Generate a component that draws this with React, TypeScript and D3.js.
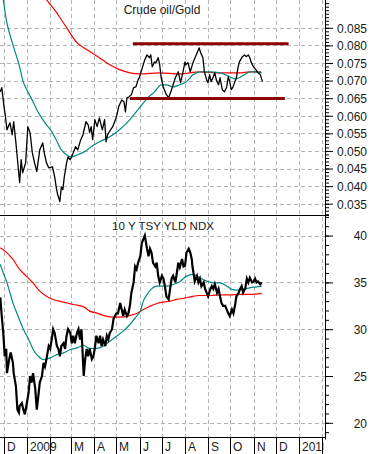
import * as React from "react";
import * as d3 from "d3";

// Crude oil / Gold ratio
const ratio: [string, number][] = [
  ["2008-11-26", 0.0668], ["2008-11-28", 0.068], ["2008-12-01", 0.0626], ["2008-12-03", 0.0597],
  ["2008-12-05", 0.056], ["2008-12-09", 0.058], ["2008-12-12", 0.0546], ["2008-12-14", 0.0583],
  ["2008-12-17", 0.0523], ["2008-12-20", 0.0455], ["2008-12-22", 0.041], ["2008-12-24", 0.0475],
  ["2008-12-26", 0.0438], ["2008-12-30", 0.0466], ["2009-01-02", 0.0569], ["2009-01-05", 0.0552],
  ["2009-01-08", 0.0495], ["2009-01-11", 0.0466], ["2009-01-14", 0.0441], ["2009-01-18", 0.0503],
  ["2009-01-22", 0.0523], ["2009-01-24", 0.0495], ["2009-01-27", 0.0466], ["2009-01-30", 0.0452],
  ["2009-02-04", 0.0455], ["2009-02-07", 0.0427], ["2009-02-09", 0.0398], ["2009-02-11", 0.0376],
  ["2009-02-14", 0.0356], ["2009-02-16", 0.0398], ["2009-02-18", 0.039], ["2009-02-20", 0.0427],
  ["2009-02-23", 0.0466], ["2009-02-25", 0.0483], ["2009-02-28", 0.0475], ["2009-03-04", 0.0495],
  ["2009-03-07", 0.0512], ["2009-03-10", 0.0503], ["2009-03-14", 0.0532], ["2009-03-17", 0.0546],
  ["2009-03-21", 0.0583], ["2009-03-24", 0.0574], ["2009-03-26", 0.0552], ["2009-03-28", 0.0569],
  ["2009-03-30", 0.0532], ["2009-04-02", 0.0589], ["2009-04-05", 0.0569], ["2009-04-08", 0.0594],
  ["2009-04-12", 0.056], ["2009-04-15", 0.0589], ["2009-04-17", 0.0526], ["2009-04-19", 0.0546],
  ["2009-04-23", 0.056], ["2009-04-26", 0.0569], ["2009-05-01", 0.0597], ["2009-05-04", 0.0626],
  ["2009-05-08", 0.0645], ["2009-05-11", 0.064], ["2009-05-13", 0.0611], ["2009-05-15", 0.0651],
  ["2009-05-18", 0.0654], ["2009-05-21", 0.066], ["2009-05-24", 0.068], ["2009-05-27", 0.0682],
  ["2009-05-30", 0.0702], ["2009-06-01", 0.0711], ["2009-06-05", 0.0739], ["2009-06-08", 0.0759],
  ["2009-06-11", 0.0773], ["2009-06-14", 0.0765], ["2009-06-16", 0.0773], ["2009-06-18", 0.0739],
  ["2009-06-21", 0.0753], ["2009-06-23", 0.0751], ["2009-06-26", 0.0765], ["2009-06-28", 0.0745],
  ["2009-06-30", 0.0708], ["2009-07-03", 0.068], ["2009-07-07", 0.066], ["2009-07-10", 0.0651],
  ["2009-07-13", 0.0668], ["2009-07-16", 0.0688], ["2009-07-19", 0.0708], ["2009-07-23", 0.0725],
  ["2009-07-26", 0.0694], ["2009-07-29", 0.0722], ["2009-08-01", 0.0753], ["2009-08-02", 0.0745],
  ["2009-08-05", 0.0751], ["2009-08-08", 0.0725], ["2009-08-12", 0.0753], ["2009-08-16", 0.0773],
  ["2009-08-20", 0.0793], ["2009-08-22", 0.0779], ["2009-08-25", 0.0765], ["2009-08-27", 0.0725],
  ["2009-08-30", 0.0702], ["2009-09-01", 0.0694], ["2009-09-03", 0.0717], ["2009-09-05", 0.0697],
  ["2009-09-08", 0.0711], ["2009-09-10", 0.0722], ["2009-09-12", 0.0702], ["2009-09-15", 0.0688],
  ["2009-09-17", 0.0708], ["2009-09-20", 0.0674], ["2009-09-23", 0.0668], ["2009-09-26", 0.0682],
  ["2009-09-28", 0.0711], ["2009-09-30", 0.0697], ["2009-10-02", 0.0674], ["2009-10-04", 0.068],
  ["2009-10-07", 0.0697], ["2009-10-09", 0.0708], ["2009-10-11", 0.0736], ["2009-10-13", 0.0753],
  ["2009-10-17", 0.0768], ["2009-10-20", 0.0773], ["2009-10-22", 0.0768], ["2009-10-25", 0.0773],
  ["2009-10-27", 0.0765], ["2009-10-29", 0.0751], ["2009-11-01", 0.0739], ["2009-11-04", 0.0731],
  ["2009-11-07", 0.0722], ["2009-11-10", 0.0717], ["2009-11-13", 0.0697],
];

// 50 day average of the ratio (teal)
const ratioMa50: [string, number][] = [
  ["2008-11-26", 0.0969], ["2008-11-30", 0.093], ["2008-12-04", 0.0873], ["2008-12-09", 0.083],
  ["2008-12-15", 0.0788], ["2008-12-22", 0.0739], ["2008-12-26", 0.0702], ["2009-01-02", 0.0668],
  ["2009-01-09", 0.064], ["2009-01-16", 0.0609], ["2009-01-25", 0.058], ["2009-02-03", 0.0555],
  ["2009-02-09", 0.0532], ["2009-02-16", 0.0503], ["2009-02-23", 0.0489], ["2009-03-01", 0.0483],
  ["2009-03-10", 0.0489], ["2009-03-19", 0.0498], ["2009-03-28", 0.0512], ["2009-04-08", 0.0526],
  ["2009-04-22", 0.054], ["2009-05-05", 0.056], ["2009-05-19", 0.0589], ["2009-06-01", 0.0623],
  ["2009-06-12", 0.0651], ["2009-06-21", 0.0668], ["2009-06-30", 0.0688], ["2009-07-07", 0.0688],
  ["2009-07-16", 0.0682], ["2009-07-25", 0.0688], ["2009-08-03", 0.0697], ["2009-08-12", 0.0717],
  ["2009-08-21", 0.0725], ["2009-09-03", 0.0725], ["2009-09-17", 0.0722], ["2009-09-30", 0.0711],
  ["2009-10-07", 0.0705], ["2009-10-13", 0.0708], ["2009-10-20", 0.0717], ["2009-10-27", 0.0725],
  ["2009-11-05", 0.0725], ["2009-11-12", 0.0722],
];

// 200 day average of the ratio (red)
const ratioMa200: [string, number][] = [
  ["2009-01-18", 0.0955], ["2009-01-27", 0.093], ["2009-02-07", 0.0901], ["2009-02-16", 0.0873],
  ["2009-02-25", 0.0844], ["2009-03-08", 0.081], ["2009-03-22", 0.0788], ["2009-04-08", 0.0765],
  ["2009-04-22", 0.0745], ["2009-05-05", 0.0731], ["2009-05-19", 0.0722], ["2009-06-01", 0.0719],
  ["2009-06-28", 0.0722], ["2009-07-25", 0.0719], ["2009-08-21", 0.0725], ["2009-09-17", 0.0722],
  ["2009-10-13", 0.0722], ["2009-10-27", 0.0725], ["2009-11-11", 0.0725],
];

// trading range drawn over the ratio
const rangeLevels = [0.0805, 0.0649];
const rangeFrom = ["2009-05-23", "2009-05-19"];
const rangeTo = ["2009-12-18", "2009-12-13"];

// 10 Y TSY YLD NDX
const tsy: [string, number][] = [
  ["2008-11-26", 33.4], ["2008-11-28", 31.4], ["2008-11-30", 29.6], ["2008-12-02", 27.1],
  ["2008-12-04", 27.9], ["2008-12-05", 25.3], ["2008-12-08", 26.8], ["2008-12-10", 27.5],
  ["2008-12-13", 26.4], ["2008-12-14", 25.3], ["2008-12-17", 23.9], ["2008-12-19", 21.4],
  ["2008-12-21", 21.1], ["2008-12-22", 21.8], ["2008-12-25", 22.1], ["2008-12-27", 21.4],
  ["2008-12-29", 20.9], ["2008-12-31", 21.8], ["2009-01-03", 23.2], ["2009-01-05", 25.0],
  ["2009-01-07", 24.3], ["2009-01-09", 25.3], ["2009-01-12", 23.6], ["2009-01-14", 21.4],
  ["2009-01-16", 22.8], ["2009-01-18", 24.3], ["2009-01-21", 25.0], ["2009-01-23", 26.4],
  ["2009-01-25", 26.0], ["2009-01-27", 26.8], ["2009-01-30", 28.2], ["2009-02-01", 27.9],
  ["2009-02-03", 28.9], ["2009-02-05", 30.0], ["2009-02-07", 29.6], ["2009-02-10", 28.2],
  ["2009-02-12", 27.9], ["2009-02-14", 27.1], ["2009-02-16", 28.2], ["2009-02-19", 28.5],
  ["2009-02-21", 27.9], ["2009-02-23", 29.3], ["2009-02-25", 30.0], ["2009-02-28", 29.6],
  ["2009-03-02", 28.5], ["2009-03-04", 29.3], ["2009-03-06", 28.5], ["2009-03-09", 29.6],
  ["2009-03-11", 30.0], ["2009-03-13", 28.9], ["2009-03-15", 30.0], ["2009-03-18", 25.0],
  ["2009-03-20", 26.8], ["2009-03-22", 27.9], ["2009-03-24", 27.1], ["2009-03-26", 27.9],
  ["2009-03-29", 26.8], ["2009-03-31", 27.1], ["2009-04-02", 28.0], ["2009-04-04", 29.3],
  ["2009-04-07", 28.5], ["2009-04-09", 29.3], ["2009-04-11", 28.2], ["2009-04-13", 28.9],
  ["2009-04-16", 28.2], ["2009-04-18", 29.3], ["2009-04-20", 28.9], ["2009-04-22", 29.6],
  ["2009-04-25", 30.0], ["2009-04-27", 31.1], ["2009-04-29", 31.4], ["2009-05-01", 31.7],
  ["2009-05-03", 31.7], ["2009-05-06", 32.8], ["2009-05-08", 32.1], ["2009-05-10", 31.4],
  ["2009-05-12", 32.1], ["2009-05-15", 31.4], ["2009-05-17", 31.7], ["2009-05-19", 32.5],
  ["2009-05-21", 33.9], ["2009-05-24", 35.0], ["2009-05-26", 36.7], ["2009-05-28", 36.4],
  ["2009-05-30", 37.1], ["2009-06-02", 37.8], ["2009-06-04", 39.2], ["2009-06-06", 39.6],
  ["2009-06-08", 40.0], ["2009-06-11", 38.6], ["2009-06-13", 37.8], ["2009-06-15", 38.6],
  ["2009-06-17", 38.2], ["2009-06-19", 37.1], ["2009-06-22", 36.7], ["2009-06-24", 37.1],
  ["2009-06-26", 35.7], ["2009-06-28", 35.0], ["2009-07-01", 35.7], ["2009-07-03", 35.4],
  ["2009-07-05", 34.6], ["2009-07-07", 33.5], ["2009-07-10", 33.2], ["2009-07-12", 34.3],
  ["2009-07-14", 35.4], ["2009-07-16", 35.7], ["2009-07-19", 35.0], ["2009-07-21", 36.0],
  ["2009-07-23", 37.1], ["2009-07-25", 36.6], ["2009-07-28", 37.5], ["2009-07-30", 36.7],
  ["2009-08-01", 36.8], ["2009-08-03", 38.2], ["2009-08-06", 38.6], ["2009-08-08", 38.2],
  ["2009-08-10", 37.5], ["2009-08-11", 36.7], ["2009-08-13", 35.7], ["2009-08-14", 35.1],
  ["2009-08-17", 35.7], ["2009-08-19", 35.0], ["2009-08-21", 35.4], ["2009-08-23", 34.6],
  ["2009-08-26", 35.0], ["2009-08-28", 34.3], ["2009-08-30", 33.9], ["2009-09-01", 33.5],
  ["2009-09-04", 34.3], ["2009-09-06", 34.6], ["2009-09-08", 34.3], ["2009-09-10", 34.8],
  ["2009-09-13", 33.9], ["2009-09-15", 34.3], ["2009-09-17", 33.5], ["2009-09-19", 32.8],
  ["2009-09-21", 32.5], ["2009-09-24", 32.5], ["2009-09-26", 32.1], ["2009-09-28", 31.7],
  ["2009-09-30", 31.4], ["2009-10-03", 32.1], ["2009-10-05", 31.7], ["2009-10-07", 32.5],
  ["2009-10-09", 33.5], ["2009-10-12", 33.9], ["2009-10-14", 34.3], ["2009-10-16", 34.6],
  ["2009-10-18", 33.9], ["2009-10-21", 34.4], ["2009-10-23", 35.4], ["2009-10-25", 35.0],
  ["2009-10-27", 35.5], ["2009-10-30", 35.0], ["2009-11-01", 35.1], ["2009-11-03", 35.4],
  ["2009-11-05", 35.0], ["2009-11-07", 35.1], ["2009-11-10", 34.8], ["2009-11-12", 35.0],
];

const tsyMa50: [string, number][] = [
  ["2008-11-26", 36.92], ["2008-11-30", 36.02], ["2008-12-05", 34.95], ["2008-12-09", 33.88],
  ["2008-12-13", 32.81], ["2008-12-20", 31.39], ["2008-12-27", 30.0], ["2009-01-03", 28.93],
  ["2009-01-09", 27.86], ["2009-01-16", 27.11], ["2009-01-23", 26.76], ["2009-02-01", 26.93],
  ["2009-02-10", 27.29], ["2009-02-19", 27.47], ["2009-02-28", 27.83], ["2009-03-09", 28.0],
  ["2009-03-18", 28.26], ["2009-03-26", 27.95], ["2009-04-04", 27.95], ["2009-04-13", 28.18],
  ["2009-04-22", 28.72], ["2009-05-01", 29.25], ["2009-05-10", 29.79], ["2009-05-19", 30.5],
  ["2009-05-28", 31.39], ["2009-06-02", 31.93], ["2009-06-06", 33.0], ["2009-06-11", 33.71],
  ["2009-06-17", 34.31], ["2009-06-24", 34.6], ["2009-07-01", 34.6], ["2009-07-07", 34.6],
  ["2009-07-16", 34.78], ["2009-07-25", 35.08], ["2009-08-03", 35.67], ["2009-08-12", 35.85],
  ["2009-08-21", 35.49], ["2009-08-30", 35.13], ["2009-09-08", 34.95], ["2009-09-17", 34.95],
  ["2009-09-26", 34.6], ["2009-10-03", 34.25], ["2009-10-09", 34.17], ["2009-10-18", 34.25],
  ["2009-10-27", 34.42], ["2009-11-05", 34.52], ["2009-11-12", 34.6],
];

const tsyMa200: [string, number][] = [
  ["2008-11-26", 38.7], ["2008-12-05", 38.16], ["2008-12-13", 37.45], ["2008-12-22", 36.39],
  ["2008-12-31", 35.67], ["2009-01-09", 34.95], ["2009-01-18", 34.06], ["2009-01-27", 33.53],
  ["2009-02-05", 33.18], ["2009-02-19", 32.89], ["2009-03-04", 32.64], ["2009-03-18", 32.39],
  ["2009-03-26", 31.93], ["2009-04-04", 31.74], ["2009-04-13", 31.47], ["2009-04-22", 31.32],
  ["2009-05-01", 31.3], ["2009-05-10", 31.32], ["2009-05-19", 31.47], ["2009-05-28", 31.68],
  ["2009-06-06", 32.11], ["2009-06-15", 32.46], ["2009-06-24", 32.75], ["2009-07-03", 32.89],
  ["2009-07-12", 33.0], ["2009-07-21", 33.18], ["2009-08-01", 33.32], ["2009-08-08", 33.45],
  ["2009-08-21", 33.6], ["2009-09-04", 33.6], ["2009-09-17", 33.67], ["2009-09-30", 33.67],
  ["2009-10-14", 33.71], ["2009-10-27", 33.71], ["2009-11-12", 33.82],
];

const monthStarts = [
  "2008-12-01", "2009-01-01", "2009-02-01", "2009-03-01", "2009-04-01", "2009-05-01", "2009-06-01",
  "2009-07-01", "2009-08-01", "2009-09-01", "2009-10-01", "2009-11-01", "2009-12-01", "2010-01-01",
  "2010-02-01",
];
const monthLabels = ["D", "2009", "", "M", "A", "M", "J", "J", "A", "S", "O", "N", "D", "2010", ""];

const topTitle = "Crude oil/Gold";
const bottomTitle = "10 Y TSY YLD NDX";

const FONT = "'Liberation Sans', Arial, sans-serif";
const parse = d3.timeParse("%Y-%m-%d");

function drawChart(svgRef: React.RefObject<SVGSVGElement>) {
  const w = 371;
  const h = 454;
  const plotR = 325; // right edge of the plotting area / axis line
  const divY = 215.5; // line between the two panels
  const baseY = 437.5; // date axis line
  const svg = d3.select(svgRef.current);
  svg.selectAll("*").remove();
  svg.attr("width", w).attr("height", h).style("background", "#fff");

  // scales
  const x = d3
    .scaleTime()
    .domain([parse("2008-12-01")!, parse("2010-01-01")!])
    .range([4, 299]);
  const yTop = d3.scaleLinear().domain([0.035, 0.085]).range([203.7, 27.8]);
  const yBot = d3.scaleLinear().domain([20, 40]).range([422.8, 235.6]);
  const px = (d: string) => x(parse(d)!);

  const defs = svg.append("defs");
  defs.append("clipPath").attr("id", "clipTop").append("rect")
    .attr("x", 0).attr("y", 0).attr("width", plotR).attr("height", divY);
  defs.append("clipPath").attr("id", "clipBot").append("rect")
    .attr("x", 0).attr("y", divY).attr("width", plotR).attr("height", baseY - divY);
  defs.append("clipPath").attr("id", "clipDates").append("rect")
    .attr("x", 0).attr("y", baseY).attr("width", plotR - 1.5).attr("height", h - baseY);

  // dashed grid
  const grid = svg.append("g")
    .attr("stroke", "#b3b3b3")
    .attr("stroke-width", 1)
    .attr("stroke-dasharray", "4,3")
    .attr("fill", "none");
  grid.selectAll(".vgrid")
    .data(monthStarts)
    .join("line")
    .attr("x1", (d) => Math.round(px(d)) + 0.5)
    .attr("x2", (d) => Math.round(px(d)) + 0.5)
    .attr("y1", 0)
    .attr("y2", baseY);
  const topMajor = yTop.ticks(10);
  const botMajor = yBot.ticks(4);
  grid.selectAll(".hgridTop")
    .data(topMajor)
    .join("line")
    .attr("x1", 0).attr("x2", plotR)
    .attr("y1", (d) => Math.round(yTop(d)) + 0.5)
    .attr("y2", (d) => Math.round(yTop(d)) + 0.5);
  grid.selectAll(".hgridBot")
    .data(botMajor)
    .join("line")
    .attr("x1", 0).attr("x2", plotR)
    .attr("y1", (d) => Math.round(yBot(d)) + 0.5)
    .attr("y2", (d) => Math.round(yBot(d)) + 0.5);

  // titles
  svg.append("text")
    .attr("x", 162).attr("y", 14)
    .attr("text-anchor", "middle")
    .style("font-family", FONT).style("font-size", "12px").attr("fill", "#1a1a1a")
    .text(topTitle);
  svg.append("text")
    .attr("x", 163).attr("y", 229.5)
    .attr("text-anchor", "middle")
    .style("font-family", FONT).style("font-size", "11.6px").attr("fill", "#1a1a1a")
    .text(bottomTitle);

  // top panel
  const topG = svg.append("g").attr("clip-path", "url(#clipTop)");
  const lineTop = d3.line<[string, number]>().x((d) => px(d[0])).y((d) => yTop(d[1]));
  const smoothTop = d3.line<[string, number]>()
    .x((d) => px(d[0])).y((d) => yTop(d[1])).curve(d3.curveMonotoneX);

  topG.append("path").datum(ratioMa200).attr("d", smoothTop)
    .attr("fill", "none").attr("stroke", "#ff0000").attr("stroke-width", 1.2);
  topG.append("path").datum(ratioMa50).attr("d", smoothTop)
    .attr("fill", "none").attr("stroke", "#008a7e").attr("stroke-width", 1.2);
  topG.append("path").datum(ratio).attr("d", lineTop)
    .attr("fill", "none").attr("stroke", "#000").attr("stroke-width", 1.3)
    .attr("stroke-linejoin", "round");
  topG.selectAll(".range")
    .data(rangeLevels)
    .join("line")
    .attr("x1", (d, i) => px(rangeFrom[i]))
    .attr("x2", (d, i) => px(rangeTo[i]))
    .attr("y1", (d) => yTop(d))
    .attr("y2", (d) => yTop(d))
    .attr("stroke", "#8b0000")
    .attr("stroke-width", 3);

  // bottom panel
  const botG = svg.append("g").attr("clip-path", "url(#clipBot)");
  const lineBot = d3.line<[string, number]>().x((d) => px(d[0])).y((d) => yBot(d[1]));
  const smoothBot = d3.line<[string, number]>()
    .x((d) => px(d[0])).y((d) => yBot(d[1])).curve(d3.curveMonotoneX);
  botG.append("path").datum(tsyMa200).attr("d", smoothBot)
    .attr("fill", "none").attr("stroke", "#ff0000").attr("stroke-width", 1.2);
  botG.append("path").datum(tsyMa50).attr("d", smoothBot)
    .attr("fill", "none").attr("stroke", "#008a7e").attr("stroke-width", 1.2);
  botG.append("path").datum(tsy).attr("d", lineBot)
    .attr("fill", "none").attr("stroke", "#000").attr("stroke-width", 2.2)
    .attr("stroke-linejoin", "miter");

  // frame lines
  svg.append("line")
    .attr("x1", 0).attr("x2", plotR + 4).attr("y1", divY).attr("y2", divY)
    .attr("stroke", "#000").attr("stroke-width", 1);
  svg.append("line")
    .attr("x1", 0).attr("x2", plotR).attr("y1", baseY).attr("y2", baseY)
    .attr("stroke", "#000").attr("stroke-width", 1);
  svg.append("line")
    .attr("x1", plotR + 0.5).attr("x2", plotR + 0.5).attr("y1", 0).attr("y2", baseY + 2)
    .attr("stroke", "#000").attr("stroke-width", 1);

  // right axes
  const topLo = yTop.invert(divY);
  const topHi = yTop.invert(0);
  const botLo = yBot.invert(baseY);
  const botHi = yBot.invert(divY);

  const styleAxis = (g: d3.Selection<SVGGElement, unknown, null, undefined>) => {
    g.select(".domain").remove();
    g.selectAll("line").attr("stroke", "#000");
    g.selectAll("text")
      .attr("x", 42)
      .attr("dy", "0.36em")
      .attr("text-anchor", "end")
      .attr("fill", "#1a1a1a")
      .style("font-family", FONT)
      .style("font-size", "12px");
  };

  svg.append("g")
    .attr("transform", `translate(${plotR},0)`)
    .call(d3.axisRight(yTop).tickValues(d3.ticks(topLo, topHi, 60).filter((v) => v > topLo && v < topHi)).tickSize(4).tickFormat(() => ""))
    .call(styleAxis);
  svg.append("g")
    .attr("transform", `translate(${plotR},0)`)
    .call(d3.axisRight(yTop).tickValues(topMajor).tickSize(8).tickFormat(d3.format(".3f")))
    .call(styleAxis);
  svg.append("g")
    .attr("transform", `translate(${plotR},0)`)
    .call(d3.axisRight(yBot).tickValues(d3.range(Math.ceil(botLo), Math.floor(botHi) + 1)).tickSize(4).tickFormat(() => ""))
    .call(styleAxis);
  svg.append("g")
    .attr("transform", `translate(${plotR},0)`)
    .call(d3.axisRight(yBot).tickValues(botMajor).tickSize(8).tickFormat(d3.format("d")))
    .call(styleAxis);

  // date axis: month separators with the label just right of each one
  const dates = svg.append("g").attr("clip-path", "url(#clipDates)");
  dates.selectAll(".sep")
    .data(monthStarts)
    .join("line")
    .attr("x1", (d) => Math.round(px(d)) + 0.5)
    .attr("x2", (d) => Math.round(px(d)) + 0.5)
    .attr("y1", baseY)
    .attr("y2", h)
    .attr("stroke", "#000");
  dates.selectAll(".lab")
    .data(monthStarts)
    .join("text")
    .attr("x", (d) => Math.round(px(d)) + 3)
    .attr("y", 450.5)
    .style("font-family", FONT)
    .style("font-size", "12px")
    .attr("fill", "#1a1a1a")
    .text((d, i) => monthLabels[i]);
}

const Chart: React.FunctionComponent = () => {
  const svg = React.useRef<SVGSVGElement>(null);
  React.useEffect(() => {
    document.body.style.margin = "0";
    drawChart(svg);
  }, [svg]);

  return (
    <div id="chart">
      <svg ref={svg} style={{ display: "block" }} />
    </div>
  );
};

export default Chart;
